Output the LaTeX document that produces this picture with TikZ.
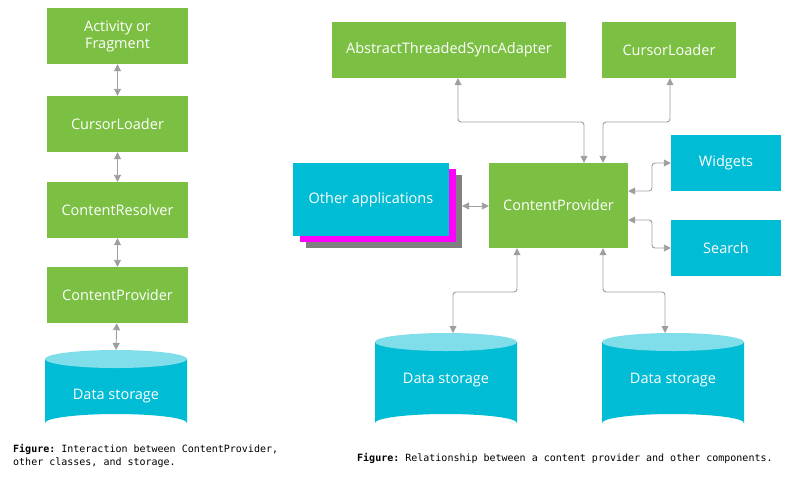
\documentclass[tikz,border=0pt]{standalone}
\usepackage{fontspec}
\setmainfont{Open Sans}
\setmonofont{DejaVu Sans Mono}
\usetikzlibrary{arrows.meta,calc}
\definecolor{leaf}{HTML}{7BC043}
\definecolor{aqua}{HTML}{00BCD4}
\definecolor{aquatop}{HTML}{80DEEA}
\definecolor{wire}{HTML}{9E9E9E}
\definecolor{pinkstack}{HTML}{FF00FF}
\definecolor{greystack}{HTML}{808080}
\tikzset{
  box/.style={fill=leaf, text=white, font=\fontsize{14.5}{17}\selectfont, align=center, inner sep=0pt},
  cbox/.style={box, fill=aqua},
  link/.style={draw=wire, line width=0.9pt, rounded corners=3pt, {Triangle[length=7pt,width=7pt]}-{Triangle[length=7pt,width=7pt]}},
  note/.style={font=\ttfamily\fontsize{10}{13}\selectfont, align=left, anchor=north west, inner sep=0pt}
}
% data storage cylinder: name, centre x, top y, bottom y, label y
\newcommand{\storage}[5]{%
  \fill[aqua] (#2-71,#3) -- (#2-71,#4) arc[start angle=180,end angle=360,x radius=71,y radius=9] -- (#2+71,#3) -- cycle;
  \fill[aquatop] (#2,#3) ellipse[x radius=71,y radius=9];
  \node[text=white, font=\fontsize{14.5}{17}\selectfont] (#1) at (#2,#5) {Data storage};
  \coordinate (#1-top) at (#2,#3-9);
}
\begin{document}
\begin{tikzpicture}[x=1pt,y=-1pt]
\useasboundingbox (0,0) rectangle (800,480);
% left figure
\node[box, minimum width=141, minimum height=56] (act) at (117.5,36) {Activity or\\Fragment};
\node[box, minimum width=141, minimum height=56] (loader) at (117.5,124) {CursorLoader};
\node[box, minimum width=141, minimum height=56] (resolver) at (117.5,210) {ContentResolver};
\node[box, minimum width=141, minimum height=56] (provider) at (117.5,295) {ContentProvider};
\storage{store}{116}{359}{423}{396}
\draw[link] (act) -- (loader);
\draw[link] (loader) -- (resolver);
\draw[link] (resolver) -- (provider);
\draw[link] (provider) -- (store-top);
\node[note] (capl) at (13,444) {\textbf{Figure:} Interaction between ContentProvider,\\other classes, and storage.};
% right figure
\node[box, minimum width=234, minimum height=56] (sync) at (449,50) {AbstractThreadedSyncAdapter};
\node[box, minimum width=134, minimum height=56] (cloader) at (669,50) {CursorLoader};
\node[box, minimum width=139, minimum height=85] (cp) at (558.5,205.5) {ContentProvider};
\node[cbox, minimum width=110, minimum height=56] (widgets) at (726,163) {Widgets};
\node[cbox, minimum width=110, minimum height=56] (search) at (726,248) {Search};
\fill[greystack] (306,175) rectangle (462,248);
\fill[pinkstack] (300,169) rectangle (456,242);
\node[cbox, minimum width=156, minimum height=73] (apps) at (371,199.5) {Other applications};
\storage{s1}{446}{342}{423}{380}
\storage{s2}{673}{342}{423}{380}
\coordinate (w1) at (458,122);
\coordinate (w2) at (670,122);
\coordinate (a1) at (462,206);
\coordinate (d1) at (453,292);
\coordinate (d2) at (665,292);
\coordinate (e1) at (652,191);
\coordinate (e2) at (652,220);
\draw[link] ([xshift=25.5]cp.north) |- (w1) -- (sync.south -| w1);
\draw[link] ([xshift=44.5]cp.north) |- (w2) -- (cloader.south -| w2);
\draw[link] (cp.east |- e1) -- (e1) |- (widgets.west);
\draw[link] (cp.east |- e2) -- (e2) |- (search.west);
\draw[link] (a1) -- (cp.west |- a1);
\draw[link] ([xshift=-41.5]cp.south) |- (d1) -- (s1-top -| d1);
\draw[link] ([xshift=44.5]cp.south) |- (d2) -- (s2-top -| d2);
\node[note] (capr) at (357,453) {\textbf{Figure:} Relationship between a content provider and other components.};
\end{tikzpicture}
\end{document}
